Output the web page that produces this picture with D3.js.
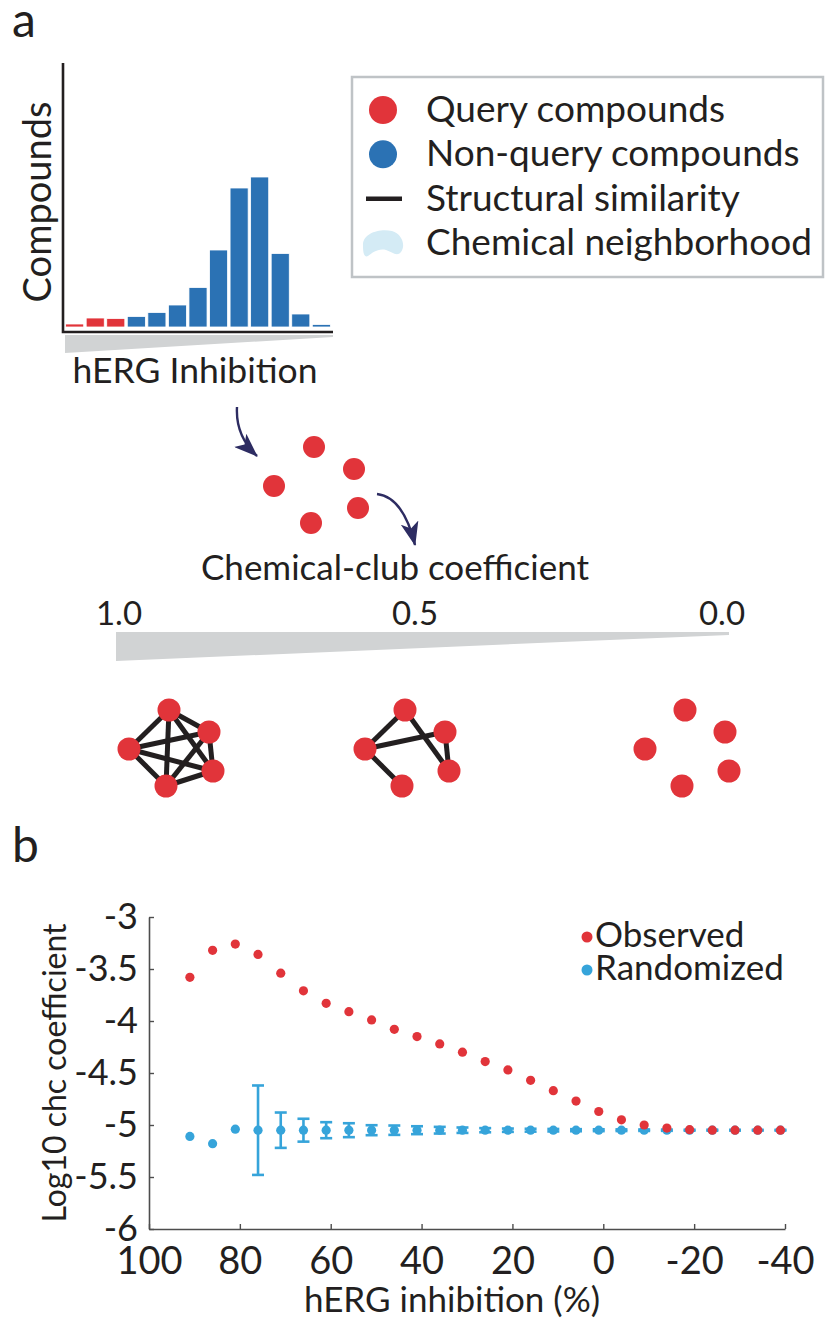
<!DOCTYPE html>
<html>
<head>
<meta charset="utf-8">
<script src="https://cdn.jsdelivr.net/npm/d3@7"></script>
<style>
  body { margin: 0; background: #fff; }
  svg text { font-family: "Lato", "Open Sans", sans-serif; fill: #231f20; }
</style>
</head>
<body>
<script>
// hERG figure: panel a (schematic) + panel b (chemical-club coefficient)

// ---------- data ----------
// histogram of compounds over hERG inhibition bins (arbitrary counts)
var histCounts = [6, 18, 17, 21, 29, 44, 79, 154, 278, 300, 147, 26, 5];
var queryBins = 3; // first bins are the query compounds

var legendA = ["Query compounds", "Non-query compounds", "Structural similarity", "Chemical neighborhood"];

var clubTicks = [1.0, 0.5, 0.0];
var clubTickLabels = ["1.0", "0.5", "0.0"];

// node layout shared by the little networks (layout units = px)
var netNodes = [
  {id: "top", x: 40, y: -39},
  {id: "ur", x: 80, y: -17},
  {id: "left", x: 0, y: 0},
  {id: "lr", x: 84, y: 22},
  {id: "bottom", x: 37, y: 37}
];
var edgesFull = [["top","ur"],["top","left"],["top","lr"],["top","bottom"],["ur","left"],
                 ["ur","lr"],["ur","bottom"],["left","lr"],["left","bottom"],["lr","bottom"]];
var edgesHalf = [["top","left"],["left","ur"],["top","lr"],["ur","lr"],["left","bottom"]];
var edgesNone = [];
var networks = [
  {club: 1.0, edges: edgesFull},
  {club: 0.5, edges: edgesHalf},
  {club: 0.0, edges: edgesNone}
];

// panel b
var inhibition = [91, 86, 81, 76, 71, 66, 61, 56, 51, 46, 41, 36, 31, 26, 21, 16, 11, 6, 1, -4, -9, -14, -19, -24, -29, -34, -39];
var observed = [-3.58, -3.32, -3.26, -3.36, -3.54, -3.71, -3.83, -3.91, -3.99, -4.08, -4.15, -4.22, -4.30,
                -4.39, -4.47, -4.57, -4.67, -4.77, -4.87, -4.95, -5.00, -5.03, -5.045, -5.05, -5.05, -5.05, -5.05];
var randomized = [-5.11, -5.18, -5.04, -5.05, -5.05, -5.05, -5.05, -5.05, -5.05, -5.05, -5.05, -5.05, -5.05,
                  -5.05, -5.05, -5.05, -5.05, -5.05, -5.05, -5.05, -5.05, -5.05, -5.05, -5.05, -5.05, -5.05, -5.05];
var randomizedErr = [0, 0, 0, 0.43, 0.17, 0.11, 0.077, 0.067, 0.048, 0.045, 0.038, 0.032, 0.026,
                     0.02, 0.016, 0.014, 0.012, 0.01, 0.009, 0.008, 0.007, 0.006, 0.005, 0.005, 0.004, 0.004, 0.004];
var xTicks = [100, 80, 60, 40, 20, 0, -20, -40];
var yTicks = [-3, -3.5, -4, -4.5, -5, -5.5, -6];
var legendB = ["Observed", "Randomized"];

var red = "#e1343a";
var blue = "#2b72b4";
var lightBlue = "#36a4da";
var navy = "#2d2c62";
var ink = "#231f20";
var wedgeGrey = "#d1d3d4";

// ---------- svg ----------
var svg = d3.select("body")
  .append("svg")
  .attr("width", 825)
  .attr("height", 1322);

var defs = svg.append("defs");
defs.append("marker")
  .attr("id", "head")
  .attr("viewBox", "0 0 24 18")
  .attr("refX", 23)
  .attr("refY", 9)
  .attr("markerWidth", 24)
  .attr("markerHeight", 18)
  .attr("markerUnits", "userSpaceOnUse")
  .attr("orient", "auto")
  .append("path")
  .attr("d", "M0,0 L24,9 L0,18 L6,9 Z")
  .attr("fill", navy);

// panel letters
svg.append("text").attr("x", 12).attr("y", 37).style("font-size", "48px").text("a");
svg.append("text").attr("x", 12).attr("y", 862).style("font-size", "48px").text("b");

// ---------- panel a : histogram ----------
var hx = d3.scaleBand()
  .domain(d3.range(histCounts.length))
  .range([65, 331])
  .paddingInner(0.12)
  .paddingOuter(0.03);
var hy = d3.scaleLinear().domain([0, 300]).range([327, 177]);

svg.append("g").selectAll("rect")
  .data(histCounts)
  .enter()
  .append("rect")
  .attr("x", (d, i) => hx(i))
  .attr("y", d => hy(d))
  .attr("width", hx.bandwidth())
  .attr("height", d => hy(0) - hy(d))
  .attr("fill", (d, i) => i < queryBins ? red : blue)
  .attr("stroke", "#fff")
  .attr("stroke-width", 0.8);

// axes of the histogram (no ticks)
svg.append("path")
  .attr("d", "M63,63 V332 H333")
  .attr("fill", "none")
  .attr("stroke", ink)
  .attr("stroke-width", 2.6);

// grey wedge under it
svg.append("path")
  .attr("d", "M65,335 L333,335 L333,337 L65,353 Z")
  .attr("fill", wedgeGrey);

svg.append("text")
  .attr("transform", "translate(51,202) rotate(-90)")
  .style("text-anchor", "middle")
  .style("font-size", "38px")
  .text("Compounds");

svg.append("text")
  .attr("x", 195)
  .attr("y", 383)
  .style("text-anchor", "middle")
  .style("font-size", "35.5px")
  .text("hERG Inhibition");

// ---------- panel a : legend ----------
var legA = svg.append("g");
legA.append("rect")
  .attr("x", 352).attr("y", 77)
  .attr("width", 471).attr("height", 200)
  .attr("fill", "#fff")
  .attr("stroke", "#bfc3c6")
  .attr("stroke-width", 2.5);

var legRows = d3.scalePoint().domain(legendA).range([110, 243]);
legA.append("circle").attr("cx", 383).attr("cy", legRows(legendA[0])).attr("r", 14).attr("fill", red);
legA.append("circle").attr("cx", 383).attr("cy", legRows(legendA[1])).attr("r", 14).attr("fill", blue);
legA.append("line")
  .attr("x1", 366).attr("x2", 402)
  .attr("y1", legRows(legendA[2])).attr("y2", legRows(legendA[2]))
  .attr("stroke", ink).attr("stroke-width", 4.5);
legA.append("path")
  .attr("transform", `translate(0,${legRows(legendA[3]) - 243})`)
  .attr("d", "M363,246 C362,233 380,228 392,231 C402,234 406,245 401,252 C397,257 392,252 386,250 C378,248 372,253 368,256 C364,258 363,252 363,246 Z")
  .attr("fill", "#d4ebf5");
legA.selectAll("text.leg")
  .data(legendA)
  .enter()
  .append("text")
  .attr("class", "leg")
  .attr("x", 426)
  .attr("y", d => legRows(d) + 12)
  .style("font-size", "37px")
  .text(d => d);

// ---------- panel a : query cluster + arrows ----------
var clusterG = svg.append("g").attr("transform", "translate(274,486)");
clusterG.selectAll("circle")
  .data(netNodes)
  .enter()
  .append("circle")
  .attr("cx", d => d.x)
  .attr("cy", d => d.y)
  .attr("r", 11)
  .attr("fill", red);

svg.append("path")
  .attr("d", "M237,407 C236,425 242,442 257,456")
  .attr("fill", "none").attr("stroke", navy).attr("stroke-width", 2.4)
  .attr("marker-end", "url(#head)");
svg.append("path")
  .attr("d", "M377,494 C394,496 407,512 415,545")
  .attr("fill", "none").attr("stroke", navy).attr("stroke-width", 2.4)
  .attr("marker-end", "url(#head)");

// ---------- panel a : chemical-club coefficient scale ----------
svg.append("text")
  .attr("x", 395).attr("y", 580)
  .style("text-anchor", "middle")
  .style("font-size", "35px")
  .text("Chemical-club coefficient");

var clubX = d3.scaleLinear().domain([1, 0.5, 0]).range([119, 415, 722]);
svg.selectAll("text.club")
  .data(clubTicks)
  .enter()
  .append("text")
  .attr("class", "club")
  .attr("x", d => clubX(d))
  .attr("y", 625)
  .style("text-anchor", "middle")
  .style("font-size", "33px")
  .text((d, i) => clubTickLabels[i]);

svg.append("path")
  .attr("d", "M116,632 L729,632 L729,635 L116,661 Z")
  .attr("fill", wedgeGrey);

// example networks under the scale
var netX = d3.scaleLinear().domain([1, 0.5, 0]).range([129, 365, 645]);
var nodeById = {};
netNodes.forEach(n => nodeById[n.id] = n);
networks.forEach(function(net) {
  var g = svg.append("g").attr("transform", `translate(${netX(net.club)},749)`);
  g.selectAll("line")
    .data(net.edges)
    .enter()
    .append("line")
    .attr("x1", e => nodeById[e[0]].x)
    .attr("y1", e => nodeById[e[0]].y)
    .attr("x2", e => nodeById[e[1]].x)
    .attr("y2", e => nodeById[e[1]].y)
    .attr("stroke", ink)
    .attr("stroke-width", 5);
  g.selectAll("circle")
    .data(netNodes)
    .enter()
    .append("circle")
    .attr("cx", d => d.x)
    .attr("cy", d => d.y)
    .attr("r", 11.5)
    .attr("fill", red);
});

// ---------- panel b ----------
var x = d3.scaleLinear().domain([100, -40]).range([149, 785]);
var y = d3.scaleLinear().domain([-6, -3]).range([1229, 917]);

var xAxis = svg.append("g")
  .attr("transform", "translate(0,1229)")
  .call(d3.axisBottom(x).tickValues(xTicks).tickFormat(d => String(d))
    .tickSizeInner(-5).tickSizeOuter(0).tickPadding(18));
var yAxis = svg.append("g")
  .attr("transform", "translate(149,0)")
  .call(d3.axisLeft(y).tickValues(yTicks).tickFormat(d => String(d))
    .tickSizeInner(-5).tickSizeOuter(0).tickPadding(11));

[xAxis, yAxis].forEach(function(ax) {
  ax.select(".domain").attr("stroke", "#4d4d4d").attr("stroke-width", 1.6);
  ax.selectAll(".tick line").attr("stroke", "#4d4d4d").attr("stroke-width", 1.4);
  ax.selectAll("text").attr("fill", ink).style("font-family", "Lato, sans-serif");
});
xAxis.selectAll("text").style("font-size", "38px");
yAxis.selectAll("text").style("font-size", "36px");

var pts = inhibition.map((v, i) => ({x: v, obs: observed[i], rnd: randomized[i], err: randomizedErr[i]}));

// randomized error bars
var errG = svg.append("g").attr("stroke", lightBlue).attr("stroke-width", 2.6);
pts.filter(d => d.err > 0).forEach(function(d) {
  var cx = x(d.x), y0 = y(d.rnd - d.err), y1 = y(d.rnd + d.err);
  errG.append("line").attr("x1", cx).attr("x2", cx).attr("y1", y0).attr("y2", y1);
  errG.append("line").attr("x1", cx - 6).attr("x2", cx + 6).attr("y1", y0).attr("y2", y0);
  errG.append("line").attr("x1", cx - 6).attr("x2", cx + 6).attr("y1", y1).attr("y2", y1);
});

svg.append("g").selectAll("circle")
  .data(pts)
  .enter()
  .append("circle")
  .attr("cx", d => x(d.x))
  .attr("cy", d => y(d.rnd))
  .attr("r", 4.6)
  .attr("fill", lightBlue);

svg.append("g").selectAll("circle")
  .data(pts)
  .enter()
  .append("circle")
  .attr("cx", d => x(d.x))
  .attr("cy", d => y(d.obs))
  .attr("r", 4.6)
  .attr("fill", red);

// axis titles
svg.append("text")
  .attr("transform", "translate(66,1073) rotate(-90)")
  .style("text-anchor", "middle")
  .style("font-size", "32px")
  .text("Log10 chc coefficient");

svg.append("text")
  .attr("x", 452).attr("y", 1312)
  .style("text-anchor", "middle")
  .style("font-size", "35px")
  .text("hERG inhibition (%)");

// legend b
var legB = svg.append("g");
legB.selectAll("circle")
  .data(legendB)
  .enter()
  .append("circle")
  .attr("cx", 587)
  .attr("cy", (d, i) => 937 + i * 33)
  .attr("r", 5.5)
  .attr("fill", (d, i) => i === 0 ? red : lightBlue);
legB.selectAll("text")
  .data(legendB)
  .enter()
  .append("text")
  .attr("x", 595)
  .attr("y", (d, i) => 947 + i * 33)
  .style("font-size", "35px")
  .text(d => d);
</script>
</body>
</html>
